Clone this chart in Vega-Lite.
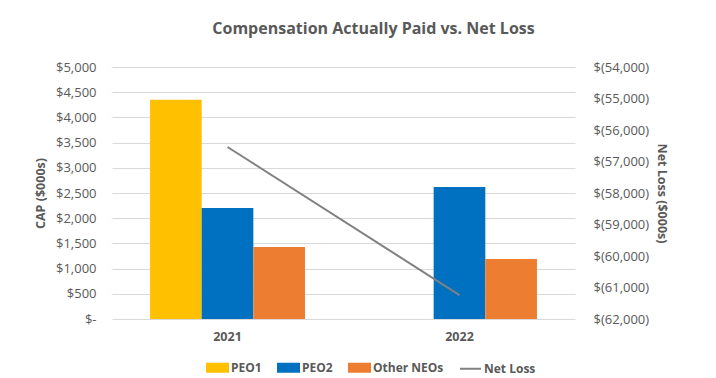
{
  "$schema": "https://vega.github.io/schema/vega-lite/v6.json",
  "width": 463,
  "height": 252,
  "autosize": "none",
  "padding": {"left": 112, "top": 67, "right": 141, "bottom": 59},
  "background": "white",
  "config": {
    "view": {"stroke": null},
    "font": "Open Sans",
    "axis": {"labelColor": "#595959", "titleColor": "#595959", "labelFont": "Open Sans", "titleFont": "Open Sans"}
  },
  "title": {
    "text": "Compensation Actually Paid vs. Net Loss",
    "font": "Open Sans",
    "fontSize": 16,
    "fontWeight": "bold",
    "color": "#595959",
    "anchor": "middle",
    "dx": 30,
    "offset": 24
  },
  "datasets": {
    "cap": [
      {"year": "2021", "series": "PEO1", "value": 4350},
      {"year": "2021", "series": "PEO2", "value": 2200},
      {"year": "2021", "series": "Other NEOs", "value": 1430},
      {"year": "2022", "series": "PEO2", "value": 2620},
      {"year": "2022", "series": "Other NEOs", "value": 1190}
    ],
    "netloss": [
      {"year": "2021", "series": "Net Loss", "netloss": -56540},
      {"year": "2022", "series": "Net Loss", "netloss": -61240}
    ]
  },
  "encoding": {
    "x": {
      "field": "year",
      "type": "nominal",
      "scale": {"domain": ["2021", "2022"], "paddingInner": 0.332, "paddingOuter": 0.164},
      "axis": {"title": null, "labelAngle": 0, "domain": false, "ticks": false, "labelPadding": 11, "labelFontSize": 12.5, "labelFontWeight": "bold", "grid": false}
    }
  },
  "layer": [
    {
      "data": {"name": "cap"},
      "mark": {"type": "bar"},
      "encoding": {
        "xOffset": {"field": "series", "type": "nominal", "scale": {"domain": ["PEO1", "PEO2", "Other NEOs"], "paddingInner": 0, "paddingOuter": 0}},
        "y": {
          "field": "value",
          "type": "quantitative",
          "scale": {"domain": [0, 5000], "nice": false},
          "axis": {
            "title": "CAP ($000s)",
            "titleFontSize": 12.5,
            "titleFontWeight": "bold",
            "titlePadding": 8,
            "values": [0, 500, 1000, 1500, 2000, 2500, 3000, 3500, 4000, 4500, 5000],
            "labelExpr": "datum.value == 0 ? '$-\u00a0\u00a0' : '$' + format(datum.value, ',')",
            "labelFontSize": 13,
            "labelPadding": 16,
            "domain": false,
            "ticks": false,
            "gridColor": "#d9d9d9",
            "gridWidth": 1
          }
        },
        "color": {
          "field": "series",
          "type": "nominal",
          "scale": {"domain": ["PEO1", "PEO2", "Other NEOs", "Net Loss"], "range": ["#FFC000", "#0070C0", "#ED7D31", "#808080"]},
          "legend": {
            "title": null,
            "orient": "none",
            "direction": "horizontal",
            "legendX": 94,
            "legendY": 289,
            "labelFontSize": 12,
            "labelFontWeight": "bold",
            "labelColor": "#595959",
            "labelFont": "Open Sans",
            "symbolSize": 441,
            "labelOffset": 2,
            "columnPadding": 12,
            "encode": {
              "symbols": {
                "update": {
                  "shape": {"signal": "datum.value == 'Net Loss' ? 'M-1,0H1' : 'M-1,-0.38H1V0.38H-1Z'"},
                  "fill": {"signal": "datum.value == 'Net Loss' ? 'transparent' : scale('color', datum.value)"},
                  "stroke": {"signal": "datum.value == 'Net Loss' ? '#808080' : 'transparent'"},
                  "strokeWidth": {"value": 2},
                  "opacity": {"value": 1}
                }
              }
            }
          }
        }
      }
    },
    {
      "data": {"name": "netloss"},
      "mark": {"type": "line", "color": "#808080", "strokeWidth": 2},
      "encoding": {
        "y": {
          "field": "netloss",
          "type": "quantitative",
          "scale": {"domain": [-62000, -54000], "nice": false},
          "axis": {
            "orient": "right",
            "title": "Net Loss ($000s)",
            "titleAngle": 90,
            "titleFontSize": 12.5,
            "titleFontWeight": "bold",
            "titlePadding": 6,
            "values": [-62000, -61000, -60000, -59000, -58000, -57000, -56000, -55000, -54000],
            "labelExpr": "'$(' + format(abs(datum.value), ',') + ')'",
            "labelFontSize": 13,
            "labelPadding": 18,
            "domain": false,
            "ticks": false,
            "grid": false
          }
        },
        "color": {"field": "series", "type": "nominal"}
      }
    }
  ],
  "resolve": {"scale": {"y": "independent"}}
}
